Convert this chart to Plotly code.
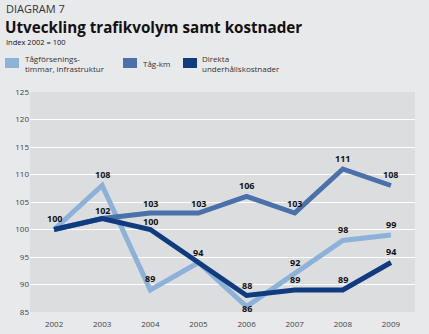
import plotly.graph_objects as go

years = ["2002", "2003", "2004", "2005", "2006", "2007", "2008", "2009"]
forsening = [100, 108, 89, 94, 86, 92, 98, 99]
tagkm = [100, 102, 103, 103, 106, 103, 111, 108]
underhall = [100, 102, 100, 94, 88, 89, 89, 94]

names = ["Tågförsenings-<br>timmar, infrastruktur", "Tåg-km", "Direkta<br>underhållskostnader"]
colors = ["#8db2da", "#4a71a9", "#0f3c7e"]
# label vertical shift per point (None = no label)
lab_forsening = [None, 11, 12, 10, -2, 11, 11, 11]
lab_tagkm = [11, 8, 10, 10, 11, 10, 11, 11]
lab_underhall = [None, None, 8, None, 10, 11, 11, 11]

y_ticks = [85, 90, 95, 100, 105, 110, 115, 120, 125]

FONT = "Open Sans"
W, H = 429, 334
ML, MR, MT, MB = 30, 14, 92, 22
pw = W - ML - MR
ph = H - MT - MB


def px(x):
    return (x - ML) / pw


def py(y):
    return (H - MB - y) / ph


fig = go.Figure()
series = [forsening, tagkm, underhall]
labels = [lab_forsening, lab_tagkm, lab_underhall]
for vals, c, n in zip(series, colors, names):
    fig.add_trace(go.Scatter(x=years, y=vals, mode="lines", line=dict(color=c, width=5),
                             name=n, showlegend=False, hoverinfo="skip"))

ann = []
for vals, labs in zip(series, labels):
    for i, (v, s) in enumerate(zip(vals, labs)):
        if s is None:
            continue
        ann.append(dict(x=i, y=v, xref="x", yref="y", text="<b>%d</b>" % v, showarrow=False,
                        yshift=s, font=dict(family=FONT, size=9, color="#111")))

ann.append(dict(x=px(4), y=py(8), xref="paper", yref="paper", xanchor="left", yanchor="middle",
                text="DIAGRAM 7", showarrow=False, font=dict(family=FONT, size=11, color="#333")))
ann.append(dict(x=px(3), y=py(26.5), xref="paper", yref="paper", xanchor="left", yanchor="middle",
                text="<b>Utveckling trafikvolym samt kostnader</b>", showarrow=False,
                font=dict(family=FONT, size=15.2, color="#111")))
ann.append(dict(x=px(4), y=py(42), xref="paper", yref="paper", xanchor="left", yanchor="middle",
                text="Index 2002 = 100", showarrow=False,
                font=dict(family=FONT, size=7.5, color="#111")))

shapes = []
leg_x = [5, 123, 183]
txt_x = [23, 141, 200]
for c, n, lx, tx in zip(colors, names, leg_x, txt_x):
    shapes.append(dict(type="rect", xref="paper", yref="paper", x0=px(lx), x1=px(lx + 14),
                       y0=py(68), y1=py(58), fillcolor=c, line=dict(width=0)))
    ann.append(dict(x=px(tx), y=py(63), xref="paper", yref="paper", xanchor="left", yanchor="middle",
                    text=n, showarrow=False, align="left",
                    font=dict(family=FONT, size=8, color="#333")))

fig.update_layout(
    width=W, height=H,
    margin=dict(l=ML, r=MR, t=MT, b=MB),
    paper_bgcolor="#e8e9eb", plot_bgcolor="#dcdddf",
    font=dict(family=FONT, size=8, color="#444"),
    xaxis=dict(type="category", range=[-0.5, 7.5], showgrid=False, zeroline=False,
               ticks="", tickfont=dict(size=8, color="#444"), showline=False,
               ticklabelstandoff=6, automargin=False),
    yaxis=dict(range=[85, 125], tickvals=y_ticks, showgrid=True, gridcolor="#ffffff", gridwidth=1,
               zeroline=False, ticks="", tickfont=dict(size=8, color="#444"), showline=False,
               automargin=False),
    showlegend=False,
    annotations=ann,
    shapes=shapes,
)

fig.write_html("out.html")
